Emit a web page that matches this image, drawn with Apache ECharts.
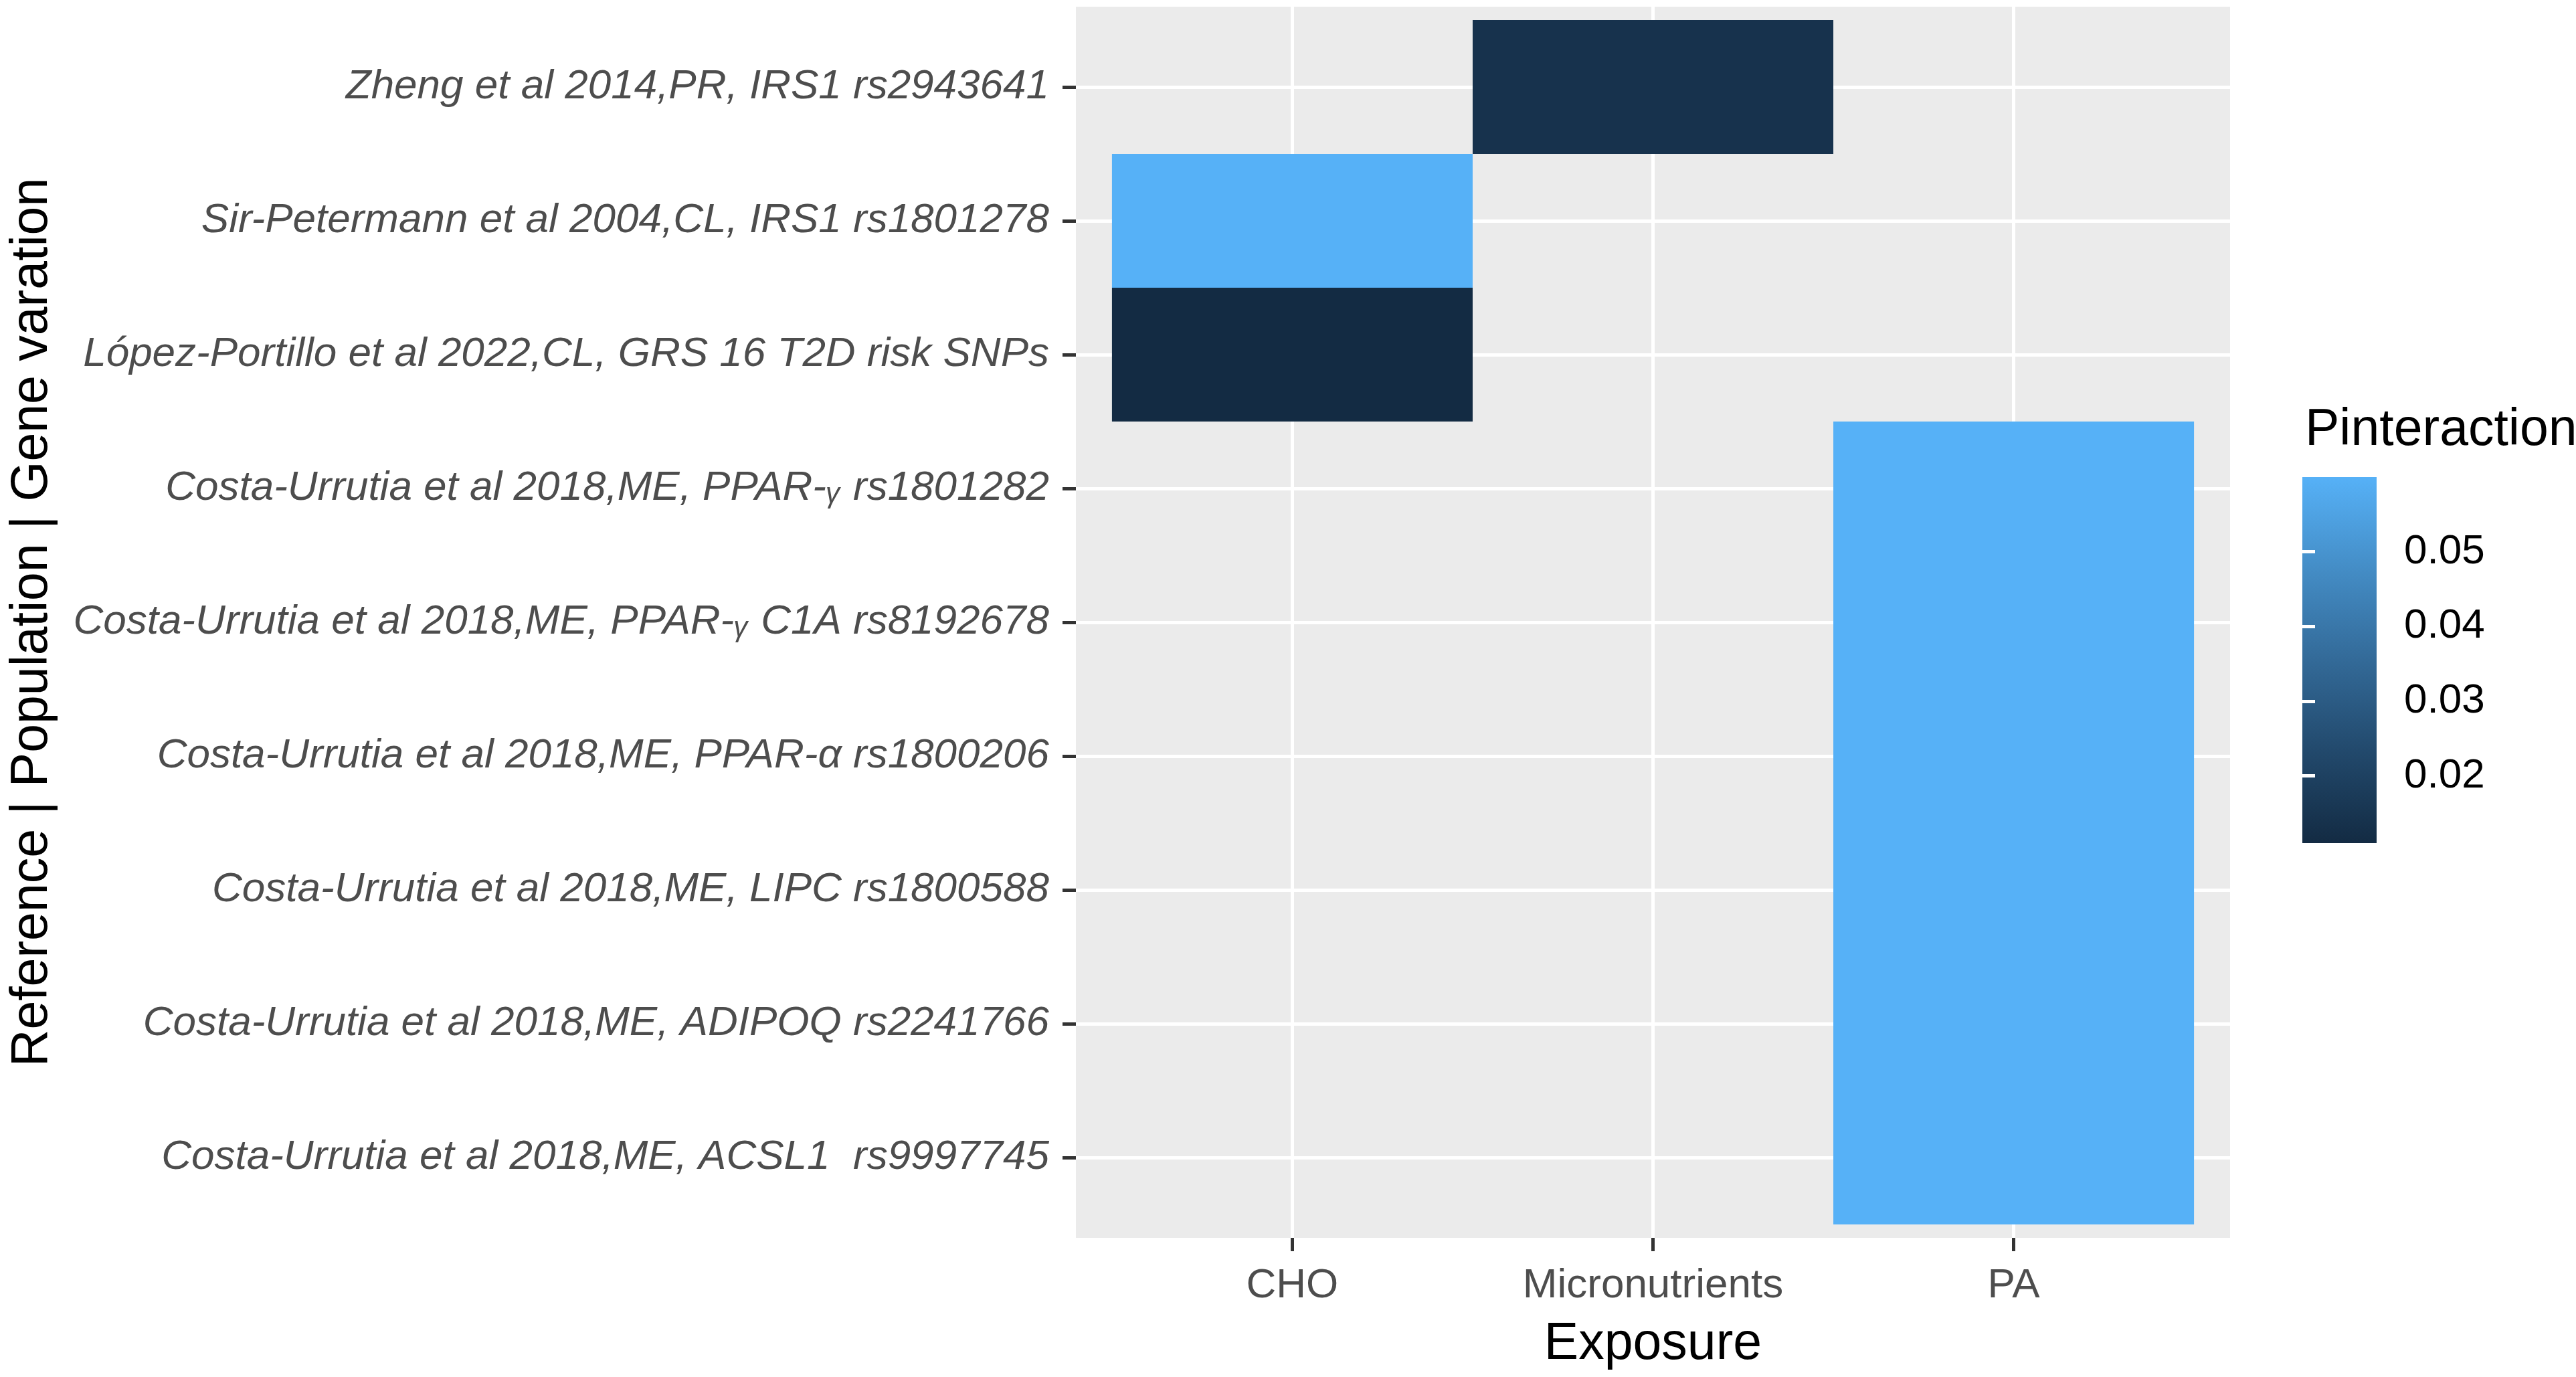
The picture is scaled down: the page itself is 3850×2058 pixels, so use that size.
<!DOCTYPE html>
<html>
<head>
<meta charset="utf-8">
<script src="https://cdn.jsdelivr.net/npm/echarts@6/dist/echarts.min.js"></script>
<style>
html,body{margin:0;padding:0;background:#fff;}
#chart{width:3850px;height:2058px;}
</style>
</head>
<body>
<div id="chart"></div>
<script>
// ---- data ----
const exposures = ['CHO', 'Micronutrients', 'PA'];
const studies = [
  'Zheng et al 2014,PR, IRS1 rs2943641',
  'Sir-Petermann et al 2004,CL, IRS1 rs1801278',
  'López-Portillo et al 2022,CL, GRS 16 T2D risk SNPs',
  'Costa-Urrutia et al 2018,ME, PPAR-ᵧ rs1801282',
  'Costa-Urrutia et al 2018,ME, PPAR-ᵧ C1A rs8192678',
  'Costa-Urrutia et al 2018,ME, PPAR-α rs1800206',
  'Costa-Urrutia et al 2018,ME, LIPC rs1800588',
  'Costa-Urrutia et al 2018,ME, ADIPOQ rs2241766',
  'Costa-Urrutia et al 2018,ME, ACSL1  rs9997745'
];
const tileExposure = ['Micronutrients', 'CHO', 'CHO', 'PA', 'PA', 'PA', 'PA', 'PA', 'PA'];
const pInteraction = [0.014, 0.060, 0.011, 0.060, 0.060, 0.060, 0.060, 0.060, 0.060];
const legendTicks = [0.02, 0.03, 0.04, 0.05];
const P_MIN = 0.011;
const P_MAX = 0.060;

// ---- build ----
const tileData = studies.map((s, i) => [exposures.indexOf(tileExposure[i]) + 1, i + 1, pInteraction[i]]);
const xPos = exposures.map((e, i) => i + 1);
const yPos = studies.map((s, i) => i + 1);
const rampColors = ['#132B43', '#22496C', '#336A98', '#448DC6', '#56B1F7'];
const FONT = 'Liberation Sans, Arial, Helvetica, sans-serif';

const chart = echarts.init(document.getElementById('chart'), null, {renderer: 'canvas'});

const barGradient = new echarts.graphic.LinearGradient(0, 0, 0, 1,
  rampColors.slice().reverse().map((c, i, arr) => ({offset: i / (arr.length - 1), color: c})));

chart.setOption({
  backgroundColor: '#ffffff',
  animation: false,
  title: {
    text: 'Pinteraction',
    left: 3445, top: 605, padding: 0,
    textStyle: {fontFamily: FONT, fontSize: 77, fontWeight: 'normal', color: '#000000'}
  },
  grid: [
    {left: 1608, top: 10, width: 1725, height: 1840, show: true, backgroundColor: '#EBEBEB', borderWidth: 0},
    {left: 3441, top: 713, width: 111, height: 547, show: true, backgroundColor: barGradient, borderWidth: 0}
  ],
  visualMap: {
    type: 'continuous', show: false, seriesIndex: 0, dimension: 2,
    min: P_MIN, max: P_MAX,
    inRange: {color: rampColors}
  },
  xAxis: [
    {
      gridIndex: 0, type: 'value', min: 0.4, max: 3.6,
      name: 'Exposure', nameLocation: 'middle', nameGap: 121,
      nameTextStyle: {fontFamily: FONT, fontSize: 77, color: '#000000'},
      axisLine: {show: false},
      axisTick: {show: true, customValues: xPos, length: 20, lineStyle: {color: '#333333', width: 5}},
      axisLabel: {customValues: xPos, margin: 41, fontFamily: FONT, fontSize: 62, color: '#4D4D4D',
        formatter: v => exposures[Math.round(v) - 1] || ''},
      splitLine: {show: true, lineStyle: {color: '#FFFFFF', width: 5}},
      minorTick: {show: false}, minorSplitLine: {show: false}
    },
    {gridIndex: 1, type: 'value', min: 0, max: 1, show: false}
  ],
  yAxis: [
    {
      gridIndex: 0, type: 'value', min: 0.4, max: 9.6, inverse: true,
      name: 'Reference | Population | Gene varation', nameLocation: 'middle', nameGap: 1521,
      nameTextStyle: {fontFamily: FONT, fontSize: 77, color: '#000000'},
      axisLine: {show: false},
      axisTick: {show: true, customValues: yPos, length: 20, lineStyle: {color: '#333333', width: 5}},
      axisLabel: {customValues: yPos, margin: 40, fontFamily: FONT, fontSize: 62, fontStyle: 'italic', color: '#4D4D4D',
        padding: [4, 0, 0, 0],
        formatter: v => studies[Math.round(v) - 1] || ''},
      splitLine: {show: true, lineStyle: {color: '#FFFFFF', width: 5}}
    },
    {
      gridIndex: 1, type: 'value', min: P_MIN, max: P_MAX, position: 'right',
      axisLine: {show: false},
      axisTick: {show: true, inside: true, customValues: legendTicks, length: 19, lineStyle: {color: '#FFFFFF', width: 5}},
      axisLabel: {customValues: legendTicks, margin: 41, fontFamily: FONT, fontSize: 62, color: '#000000',
        padding: [18, 0, 0, 0],
        formatter: v => v.toFixed(2)},
      splitLine: {show: false}
    },
    {
      gridIndex: 1, type: 'value', min: P_MIN, max: P_MAX, position: 'left',
      axisLine: {show: false},
      axisTick: {show: true, inside: true, customValues: legendTicks, length: 19, lineStyle: {color: '#FFFFFF', width: 5}},
      axisLabel: {show: false},
      splitLine: {show: false}
    }
  ],
  series: [{
    type: 'custom',
    xAxisIndex: 0, yAxisIndex: 0,
    data: tileData,
    encode: {x: 0, y: 1},
    renderItem: function (params, api) {
      const x = api.value(0), y = api.value(1);
      const p1 = api.coord([x - 0.5, y - 0.5]);
      const p2 = api.coord([x + 0.5, y + 0.5]);
      return {
        type: 'rect',
        shape: {
          x: Math.min(p1[0], p2[0]), y: Math.min(p1[1], p2[1]),
          width: Math.abs(p2[0] - p1[0]), height: Math.abs(p2[1] - p1[1])
        },
        style: {fill: api.visual('color')}
      };
    }
  }]
});
</script>
</body>
</html>
